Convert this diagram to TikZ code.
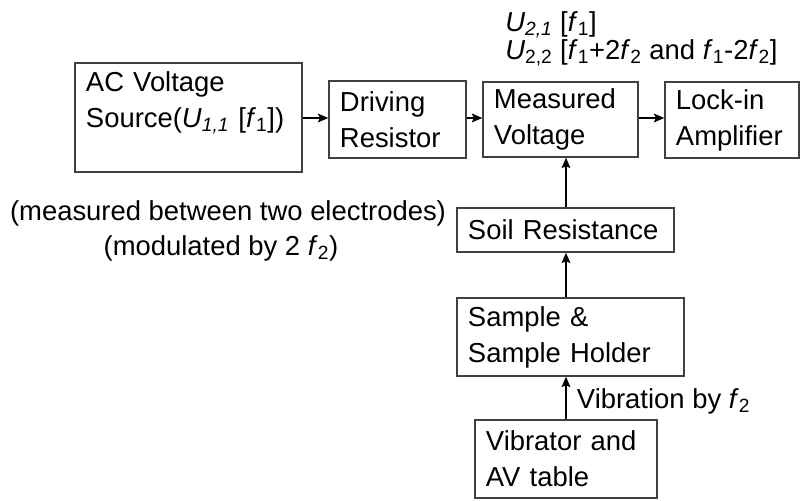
\documentclass[tikz,border=0pt]{standalone}
\usepackage{fontspec}
\setmainfont{Liberation Sans}
\usepackage{tikz}
\usetikzlibrary{positioning,arrows,arrows.meta,calc}
\newcommand{\fsub}[2]{\textit{#1}\textsubscript{#2}}
\tikzset{
    block/.style={
        rectangle,
        draw=black!75,
        line width=1pt,
        fill=white,
        align=left,
        inner xsep=0.275cm,
        inner ysep=0pt
    },
    arrow/.style={
        -{Stealth[length=2.6mm,width=2.2mm,inset=0.5mm]},
        line width=0.9pt
    },
    note/.style={
        inner sep=0pt
    }
}
\begin{document}
\begin{tikzpicture}[x=0.025cm, y=-0.025cm,
    font=\fontsize{19.5}{25.5}\selectfont]
    \useasboundingbox (0,0) rectangle (800,500);

    \node[block, text width=5.125cm, minimum height=2.725cm] (src) at (188.5,117.5)
        {AC Voltage\\Source(\fsub{U}{\textit{1,1}} [\fsub{f}{1}])\\\mbox{}};
    \node[block, text width=2.875cm, minimum height=1.925cm] (drv) at (397.5,119.5) {Driving\\Resistor};
    \node[block, text width=3.325cm, minimum height=1.875cm] (meas) at (560.5,119.5) {Measured\\Voltage};
    \node[block, text width=2.8cm, minimum height=1.9cm] (lock) at (732,120) {Lock-in\\Amplifier};
    \node[block, text width=4.875cm, minimum height=1.1cm] (soil) at (565.5,230) {Soil Resistance};
    \node[block, text width=5.125cm, minimum height=1.95cm] (hold) at (570.5,337) {Sample \&\\Sample Holder};
    \node[block, text width=4cm, minimum height=1.95cm] (vib) at (566,459) {Vibrator and\\AV table};

    \node[note, anchor=base west] (u21) at (505,31) {\fsub{U}{\textit{2,1}} [\fsub{f}{1}]};
    \node[note, anchor=base west] (u22) at (505,59)
        {\fsub{U}{2,2} [\fsub{f}{1}+2\fsub{f}{2} and\ \fsub{f}{1}-2\fsub{f}{2}]};
    \node[note, anchor=base] (elec) at (228,220) {(measured between two electrodes)};
    \node[note, anchor=base] (modul) at (221,255) {(modulated by 2 \fsub{f}{2})};

    \draw[arrow] (src.east |- 0,118) -- (drv.west |- 0,118);
    \draw[arrow] (drv.east |- 0,118) -- (meas.west |- 0,118);
    \draw[arrow] (meas.east |- 0,118) -- (lock.west |- 0,118);
    \draw[arrow] (vib.north) -- node[right, pos=0.43, xshift=4pt] (vlab) {Vibration by \fsub{f}{2}} (vib.north |- hold.south);
    \draw[arrow] (vib.north |- hold.north) -- (vib.north |- soil.south);
    \draw[arrow] (vib.north |- soil.north) -- (vib.north |- meas.south);
\end{tikzpicture}
\end{document}
